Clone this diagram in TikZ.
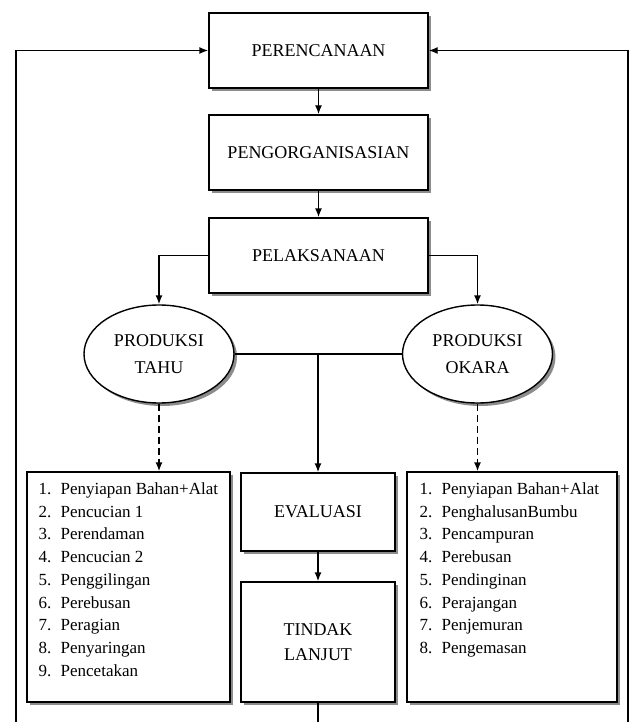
\documentclass[tikz,border=0pt]{standalone}
\usepackage{fontspec}
\setmainfont{Liberation Serif}
\usetikzlibrary{arrows.meta,shapes.geometric,shadows}
\begin{document}
\begin{tikzpicture}[x=1pt,y=-1pt,
  line width=1.4pt,
  shd/.style={drop shadow={shadow xshift=3pt,shadow yshift=-3pt,fill=black!60,opacity=0.75}},
  box/.style={draw,fill=white,shd,inner sep=0pt,align=center,font=\fontsize{18}{25}\selectfont},
  listbox/.style={draw,fill=white,shd,inner sep=0pt,minimum height=230pt},
  oval/.style={ellipse,draw,fill=white,shd,inner sep=0pt,minimum width=150pt,minimum height=98pt,align=center,font=\fontsize{18}{27}\selectfont},
  arr/.style={-{Latex[length=9pt,width=7pt]}},
  dsh/.style={dash pattern=on 7pt off 4pt},
  item/.style={anchor=base west,inner sep=0pt,font=\fontsize{17}{20}\selectfont}]
\useasboundingbox (0,0) rectangle (630,722);

\node[box,minimum width=219pt,minimum height=75pt] (p1) at (318.5,50.5) {PERENCANAAN};
\node[box,minimum width=219pt,minimum height=75pt] (p2) at (318.5,152.5) {PENGORGANISASIAN};
\node[box,minimum width=219pt,minimum height=75pt] (p3) at (318.5,255.5) {PELAKSANAAN};
\node[oval] (t) at (159,354) {PRODUKSI\\TAHU};
\node[oval] (o) at (477.5,354) {PRODUKSI\\OKARA};
\node[listbox,minimum width=203pt] (lb) at (128.5,587) {};
\node[box,minimum width=154pt,minimum height=78pt] (ev) at (318,512) {EVALUASI};
\node[box,minimum width=154pt,minimum height=120pt] (tl) at (318,642) {TINDAK\\LANJUT};
\node[listbox,minimum width=210pt] (rb) at (512,587) {};

\foreach \txt [count=\i] in {Penyiapan Bahan+Alat,Pencucian 1,Perendaman,Pencucian 2,Penggilingan,Perebusan,Peragian,Penyaringan,Pencetakan}
  \node[item] (L\i) at (38,{494.5+22.7*(\i-1)}) {\makebox[22pt][l]{\i.}\txt};
\foreach \txt [count=\i] in {Penyiapan Bahan+Alat,PenghalusanBumbu,Pencampuran,Perebusan,Pendinginan,Perajangan,Penjemuran,Pengemasan}
  \node[item] (R\i) at (419,{494.5+22.7*(\i-1)}) {\makebox[22pt][l]{\i.}\txt};

\coordinate (bl) at (16,722);
\coordinate (br) at (628,722);
\coordinate (bm) at (318,722);

\draw[arr] (p1) -- (p2);
\draw[arr] (p2) -- (p3);
\draw[arr] (p3.west) -| (t.north);
\draw[arr] (p3.east) -| (o.north);
\draw (t.east) -- (o.west);
\coordinate (j) at (t.east -| ev.north);
\draw[arr] (j) -- (ev.north);
\draw[arr,dsh] (t.south) -- (t.south |- lb.north);
\draw[arr,dsh] (o.south) -- (o.south |- rb.north);
\draw[arr] (ev) -- (tl);
\draw (tl.south) -- (bm);
\draw[arr] (bl) |- (p1.west);
\draw[arr] (br) |- (p1.east);
\end{tikzpicture}
\end{document}
